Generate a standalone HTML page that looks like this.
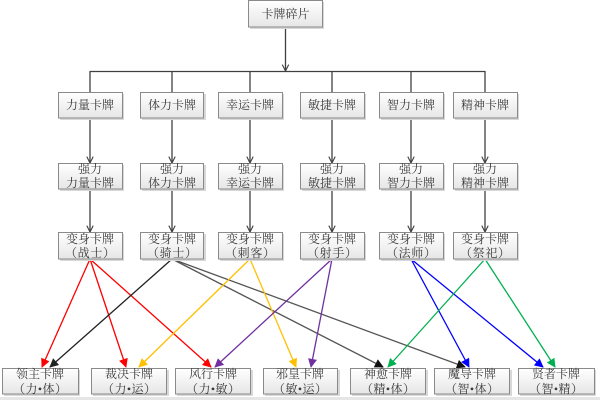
<!DOCTYPE html>
<html><head><meta charset="utf-8"><style>
html,body{margin:0;padding:0;background:#fff;}
svg{display:block;}
text{font-family:"Liberation Serif","Noto Serif CJK SC","Noto Sans CJK SC",serif;font-size:12px;fill:#3a3a3a;text-anchor:middle;}
</style></head><body>
<svg width="600" height="400" viewBox="0 0 600 400" xmlns="http://www.w3.org/2000/svg">
<defs>
<linearGradient id="g" x1="0" y1="0" x2="0" y2="1">
<stop offset="0" stop-color="#ffffff"/><stop offset="1" stop-color="#e6e6e6"/>
</linearGradient>
<marker id="v" viewBox="0 0 10 10" refX="9" refY="5" markerWidth="8" markerHeight="8" markerUnits="userSpaceOnUse" orient="auto">
<path d="M1,1 L9,5 L1,9" fill="none" stroke="#404040" stroke-width="1.4"/>
</marker>
<marker id="mr" viewBox="0 0 10 10" refX="9" refY="5" markerWidth="10" markerHeight="9" markerUnits="userSpaceOnUse" orient="auto"><path d="M0,0 L10,5 L0,10z" fill="#ff0000"/></marker>
<marker id="mk" viewBox="0 0 10 10" refX="9" refY="5" markerWidth="10" markerHeight="9" markerUnits="userSpaceOnUse" orient="auto"><path d="M0,0 L10,5 L0,10z" fill="#222"/></marker>
<marker id="mg" viewBox="0 0 10 10" refX="9" refY="5" markerWidth="10" markerHeight="9" markerUnits="userSpaceOnUse" orient="auto"><path d="M0,0 L10,5 L0,10z" fill="#111"/></marker>
<marker id="mo" viewBox="0 0 10 10" refX="9" refY="5" markerWidth="10" markerHeight="9" markerUnits="userSpaceOnUse" orient="auto"><path d="M0,0 L10,5 L0,10z" fill="#ffc000"/></marker>
<marker id="mp" viewBox="0 0 10 10" refX="9" refY="5" markerWidth="10" markerHeight="9" markerUnits="userSpaceOnUse" orient="auto"><path d="M0,0 L10,5 L0,10z" fill="#7030a0"/></marker>
<marker id="mb" viewBox="0 0 10 10" refX="9" refY="5" markerWidth="10" markerHeight="9" markerUnits="userSpaceOnUse" orient="auto"><path d="M0,0 L10,5 L0,10z" fill="#0000ff"/></marker>
<marker id="mn" viewBox="0 0 10 10" refX="9" refY="5" markerWidth="10" markerHeight="9" markerUnits="userSpaceOnUse" orient="auto"><path d="M0,0 L10,5 L0,10z" fill="#00b050"/></marker>
</defs>

<rect x="0" y="397" width="600" height="3" fill="#e6e6e6"/>

<g stroke="#404040" stroke-width="1.3" fill="none">
<line x1="285.5" y1="27" x2="285.5" y2="71" marker-end="url(#v)"/>
<line x1="90" y1="71.5" x2="485" y2="71.5"/>
<line x1="90" y1="71" x2="90" y2="92"/>
<line x1="172" y1="71" x2="172" y2="92"/>
<line x1="250" y1="71" x2="250" y2="92"/>
<line x1="332" y1="71" x2="332" y2="92"/>
<line x1="411" y1="71" x2="411" y2="92"/>
<line x1="485" y1="71" x2="485" y2="92"/>
<g marker-end="url(#v)">
<line x1="90" y1="118" x2="90" y2="163"/>
<line x1="172" y1="118" x2="172" y2="163"/>
<line x1="250" y1="118" x2="250" y2="163"/>
<line x1="332" y1="118" x2="332" y2="163"/>
<line x1="411" y1="118" x2="411" y2="163"/>
<line x1="485" y1="118" x2="485" y2="163"/>
<line x1="90" y1="189" x2="90" y2="232"/>
<line x1="172" y1="189" x2="172" y2="232"/>
<line x1="250" y1="189" x2="250" y2="232"/>
<line x1="332" y1="189" x2="332" y2="232"/>
<line x1="411" y1="189" x2="411" y2="232"/>
<line x1="485" y1="189" x2="485" y2="232"/>
</g>
</g>

<g fill="none" stroke-width="1.3">
<line x1="90" y1="259" x2="42" y2="367" stroke="#ff0000" marker-end="url(#mr)"/>
<line x1="90" y1="259" x2="126" y2="367" stroke="#ff0000" marker-end="url(#mr)"/>
<line x1="90" y1="259" x2="211" y2="367" stroke="#ff0000" marker-end="url(#mr)"/>
<line x1="172" y1="259" x2="50" y2="367" stroke="#222" marker-end="url(#mk)"/>
<line x1="172" y1="259" x2="383" y2="367" stroke="#555" marker-end="url(#mg)"/>
<line x1="172" y1="259" x2="465" y2="367" stroke="#555" marker-end="url(#mg)"/>
<line x1="250" y1="259" x2="139" y2="367" stroke="#ffc000" marker-end="url(#mo)"/>
<line x1="250" y1="259" x2="296" y2="367" stroke="#ffc000" marker-end="url(#mo)"/>
<line x1="332" y1="259" x2="215" y2="367" stroke="#7030a0" marker-end="url(#mp)"/>
<line x1="332" y1="259" x2="311" y2="367" stroke="#7030a0" marker-end="url(#mp)"/>
<line x1="411" y1="259" x2="469" y2="367" stroke="#0000ff" marker-end="url(#mb)"/>
<line x1="411" y1="259" x2="543" y2="367" stroke="#0000ff" marker-end="url(#mb)"/>
<line x1="485" y1="259" x2="388" y2="367" stroke="#00b050" marker-end="url(#mn)"/>
<line x1="485" y1="259" x2="555" y2="367" stroke="#00b050" marker-end="url(#mn)"/>
</g>

<g stroke="#8a8a8a" stroke-width="1" fill="url(#g)">
<g fill="#d8d8d8" stroke="none">
<rect x="250" y="2" width="74" height="27"/>
<rect x="60" y="94" width="64" height="26"/><rect x="142" y="94" width="64" height="26"/><rect x="220" y="94" width="64" height="26"/><rect x="302" y="94" width="64" height="26"/><rect x="381" y="94" width="64" height="26"/><rect x="455" y="94" width="64" height="26"/>
<rect x="60" y="165" width="64" height="26"/><rect x="142" y="165" width="64" height="26"/><rect x="220" y="165" width="64" height="26"/><rect x="302" y="165" width="64" height="26"/><rect x="381" y="165" width="64" height="26"/><rect x="455" y="165" width="64" height="26"/>
<rect x="60" y="234" width="64" height="27"/><rect x="142" y="234" width="64" height="27"/><rect x="220" y="234" width="64" height="27"/><rect x="302" y="234" width="64" height="27"/><rect x="381" y="234" width="64" height="27"/><rect x="455" y="234" width="64" height="27"/>
<rect x="4" y="370" width="76" height="26"/><rect x="93" y="370" width="76" height="26"/><rect x="177" y="370" width="76" height="26"/><rect x="265" y="370" width="75" height="26"/><rect x="352" y="370" width="76" height="26"/><rect x="436" y="370" width="76" height="26"/><rect x="520" y="370" width="76" height="26"/>
</g>
<rect x="248.5" y="0.5" width="74" height="26.5"/>
<rect x="58.5" y="92.5" width="64" height="25.5"/><rect x="140.5" y="92.5" width="63" height="25.5"/><rect x="218.5" y="92.5" width="64" height="25.5"/><rect x="300.5" y="92.5" width="64" height="25.5"/><rect x="379.5" y="92.5" width="64" height="25.5"/><rect x="453.5" y="92.5" width="64" height="25.5"/>
<rect x="58.5" y="163.5" width="64" height="25.5"/><rect x="140.5" y="163.5" width="63" height="25.5"/><rect x="218.5" y="163.5" width="64" height="25.5"/><rect x="300.5" y="163.5" width="64" height="25.5"/><rect x="379.5" y="163.5" width="64" height="25.5"/><rect x="453.5" y="163.5" width="64" height="25.5"/>
<rect x="58.5" y="232.5" width="64" height="26.5"/><rect x="140.5" y="232.5" width="63" height="26.5"/><rect x="218.5" y="232.5" width="64" height="26.5"/><rect x="300.5" y="232.5" width="64" height="26.5"/><rect x="379.5" y="232.5" width="64" height="26.5"/><rect x="453.5" y="232.5" width="64" height="26.5"/>
<rect x="2.5" y="368.5" width="76" height="25.5"/><rect x="91.5" y="368.5" width="75" height="25.5"/><rect x="175.5" y="368.5" width="75" height="25.5"/><rect x="263.5" y="368.5" width="74" height="25.5"/><rect x="350.5" y="368.5" width="75" height="25.5"/><rect x="434.5" y="368.5" width="75" height="25.5"/><rect x="518.5" y="368.5" width="76" height="25.5"/>
</g>

<text x="285.5" y="18">卡牌碎片</text>

<text x="90" y="109">力量卡牌</text>
<text x="172" y="109">体力卡牌</text>
<text x="250" y="109">幸运卡牌</text>
<text x="332" y="109">敏捷卡牌</text>
<text x="411" y="109">智力卡牌</text>
<text x="485" y="109">精神卡牌</text>

<text x="90" y="173">强力</text><text x="90" y="187">力量卡牌</text>
<text x="172" y="173">强力</text><text x="172" y="187">体力卡牌</text>
<text x="250" y="173">强力</text><text x="250" y="187">幸运卡牌</text>
<text x="332" y="173">强力</text><text x="332" y="187">敏捷卡牌</text>
<text x="411" y="173">强力</text><text x="411" y="187">智力卡牌</text>
<text x="485" y="173">强力</text><text x="485" y="187">精神卡牌</text>

<text x="90" y="243">变身卡牌</text><text x="90" y="257" textLength="50" lengthAdjust="spacing">（战士）</text>
<text x="172" y="243">变身卡牌</text><text x="172" y="257" textLength="50" lengthAdjust="spacing">（骑士）</text>
<text x="250" y="243">变身卡牌</text><text x="250" y="257" textLength="50" lengthAdjust="spacing">（刺客）</text>
<text x="332" y="243">变身卡牌</text><text x="332" y="257" textLength="50" lengthAdjust="spacing">（射手）</text>
<text x="411" y="243">变身卡牌</text><text x="411" y="257" textLength="50" lengthAdjust="spacing">（法师）</text>
<text x="485" y="243">变身卡牌</text><text x="485" y="257" textLength="50" lengthAdjust="spacing">（祭祀）</text>

<text x="40" y="378">领主卡牌</text><text x="40" y="393" textLength="54" lengthAdjust="spacing">（力•体）</text>
<text x="129" y="378">裁决卡牌</text><text x="129" y="393" textLength="54" lengthAdjust="spacing">（力•运）</text>
<text x="213" y="378">风行卡牌</text><text x="213" y="393" textLength="54" lengthAdjust="spacing">（力•敏）</text>
<text x="300" y="378">邪皇卡牌</text><text x="300" y="393" textLength="54" lengthAdjust="spacing">（敏•运）</text>
<text x="388" y="378">神愈卡牌</text><text x="388" y="393" textLength="54" lengthAdjust="spacing">（精•体）</text>
<text x="472" y="378">魔导卡牌</text><text x="472" y="393" textLength="54" lengthAdjust="spacing">（智•体）</text>
<text x="556" y="378">贤者卡牌</text><text x="556" y="393" textLength="54" lengthAdjust="spacing">（智•精）</text>
</svg>
</body></html>
